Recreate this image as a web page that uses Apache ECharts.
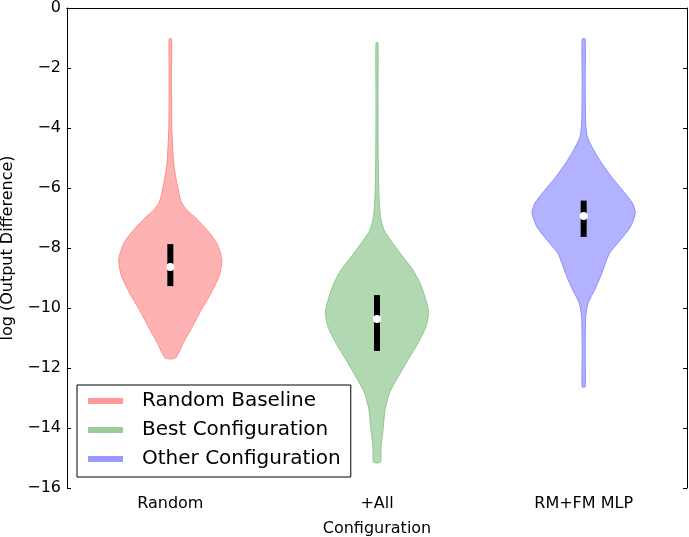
<!DOCTYPE html>
<html>
<head>
<meta charset="utf-8">
<script src="https://cdn.jsdelivr.net/npm/echarts@6/dist/echarts.min.js"></script>
<style>
  html, body { margin: 0; padding: 0; background: #fff; }
  #chart { width: 689px; height: 537px; }
</style>
</head>
<body>
<div id="chart"></div>
<script>
var categories = ['Random', '+All', 'RM+FM MLP'];
var seriesNames = ['Random Baseline', 'Best Configuration', 'Other Configuration'];

// violin outlines: y level (log) and estimated density (relative)
var randomLevels = [-1.03, -2, -3, -4, -4.4, -5.17, -5.62, -6.07, -6.3, -6.5, -6.75, -6.95, -7.4, -7.85, -8.4, -8.95, -9.5, -10.07, -10.63, -11.17, -11.67];
var randomDensity = [1.2, 1.2, 1.2, 1.5, 2, 3.3, 5.3, 8, 9.5, 11.5, 17, 24, 37, 47, 52, 49, 41, 31, 22, 13, 5];

var allLevels = [-1.16, -3, -5, -6.3, -6.95, -7.4, -7.85, -8.3, -8.73, -9.17, -9.63, -10.13, -10.63, -11.17, -11.73, -12.3, -12.83, -13.4, -14.07, -14.63, -15.14];
var allDensity = [1, 1, 1.2, 2, 3.5, 7, 16, 26, 36, 43, 48, 51.7, 49, 41, 31, 21, 12.5, 8, 6, 4, 3.5];

var mlpLevels = [-1.03, -2.5, -3.85, -4.3, -4.73, -5.17, -5.63, -6.07, -6.5, -6.83, -7.3, -7.73, -8.17, -8.5, -8.95, -9.4, -9.83, -10.3, -11.5, -12.63];
var mlpDensity = [1.5, 1.5, 2, 3.7, 10, 18, 28, 39, 49, 52, 47, 37, 26, 22, 17, 11, 4.5, 2, 1.5, 1.5];

var medians = [-8.63, -10.37, -6.93];
var q1 = [-9.27, -11.43, -7.63];
var q3 = [-7.87, -9.57, -6.42];

var fills = ['#ffb2b2', '#b2d8b2', '#b2b2ff'];
var edges = ['#ff8c8c', '#8cc68c', '#8c8cff'];
var legendColors = ['#ff9999', '#99cc99', '#9999ff'];

var chart = echarts.init(document.getElementById('chart'));

function makeRender(idx, levels, density) {
  var maxD = Math.max.apply(null, density);
  return function (params, api) {
    var cat = api.value(0);
    var band = api.size([1, 0])[0];
    var half = band * 0.25;
    var cx = api.coord([cat, 0])[0];
    var left = [], right = [];
    for (var i = 0; i < levels.length; i++) {
      var y = api.coord([cat, levels[i]])[1];
      var w = density[i] / maxD * half;
      right.push([cx + w, y]);
      left.unshift([cx - w, y]);
    }
    var pts = right.concat(left);
    var yTop = api.coord([cat, q3[idx]])[1];
    var yBot = api.coord([cat, q1[idx]])[1];
    var yMed = api.coord([cat, medians[idx]])[1];
    return {
      type: 'group',
      children: [
        {
          type: 'polygon',
          shape: { points: pts, smooth: 0.2 },
          style: { fill: fills[idx], stroke: edges[idx], lineWidth: 1 }
        },
        {
          type: 'rect',
          shape: { x: cx - 3, y: yTop, width: 6, height: yBot - yTop },
          style: { fill: '#000' }
        },
        {
          type: 'circle',
          shape: { cx: cx, cy: yMed, r: 4 },
          style: { fill: '#fff' }
        }
      ]
    };
  };
}

var profiles = [[randomLevels, randomDensity], [allLevels, allDensity], [mlpLevels, mlpDensity]];
var series = profiles.map(function (p, i) {
  return {
    name: seriesNames[i],
    type: 'custom',
    xAxisIndex: 0,
    yAxisIndex: 0,
    itemStyle: { color: legendColors[i] },
    renderItem: makeRender(i, p[0], p[1]),
    data: [[i]],
    silent: true
  };
});

var font = 'DejaVu Sans';
var option = {
  animation: false,
  textStyle: { fontFamily: font, color: '#000' },
  grid: { left: 67, right: 2, top: 8, bottom: 49, containLabel: false, outerBoundsMode: 'none' },
  legend: {
    orient: 'vertical',
    left: 77,
    top: 385,
    icon: 'rect',
    itemWidth: 35,
    itemHeight: 6,
    itemGap: 7,
    padding: [5, 10, 7, 11],
    borderColor: '#000',
    borderWidth: 1,
    backgroundColor: '#fff',
    textStyle: { fontSize: 20, fontFamily: font, color: '#000', lineHeight: 22, padding: [0, 0, 0, 14] },
    data: seriesNames
  },
  xAxis: [
    {
      type: 'category',
      data: categories,
      position: 'bottom',
      name: 'Configuration',
      nameLocation: 'middle',
      nameGap: 33,
      nameTextStyle: { fontSize: 16, fontFamily: font, color: '#000' },
      axisLine: { lineStyle: { color: '#000', width: 1 } },
      axisTick: { inside: true, alignWithLabel: true, length: 4, lineStyle: { color: '#000' } },
      axisLabel: { fontSize: 16, fontFamily: font, color: '#000', margin: 8 },
      splitLine: { show: false }
    },
    {
      type: 'category',
      data: categories,
      position: 'top',
      axisLine: { lineStyle: { color: '#000', width: 1 } },
      axisTick: { inside: true, alignWithLabel: true, length: 4, lineStyle: { color: '#000' } },
      axisLabel: { show: false },
      splitLine: { show: false }
    }
  ],
  yAxis: [
    {
      type: 'value',
      min: -16,
      max: 0,
      interval: 2,
      position: 'left',
      name: 'log (Output Difference)',
      nameLocation: 'middle',
      nameGap: 50,
      nameTextStyle: { fontSize: 16, fontFamily: font, color: '#000' },
      axisLine: { show: true, lineStyle: { color: '#000', width: 1 } },
      axisTick: { show: true, inside: true, length: 4, lineStyle: { color: '#000' } },
      axisLabel: {
        fontSize: 16, fontFamily: font, color: '#000', margin: 6,
        formatter: function (v) { return String(v).replace('-', '\u2212'); }
      },
      splitLine: { show: false }
    },
    {
      type: 'value',
      min: -16,
      max: 0,
      interval: 2,
      position: 'right',
      axisLine: { show: true, lineStyle: { color: '#000', width: 1 } },
      axisTick: { show: true, inside: true, length: 4, lineStyle: { color: '#000' } },
      axisLabel: { show: false },
      splitLine: { show: false }
    }
  ],
  series: series
};

chart.setOption(option);
</script>
</body>
</html>
